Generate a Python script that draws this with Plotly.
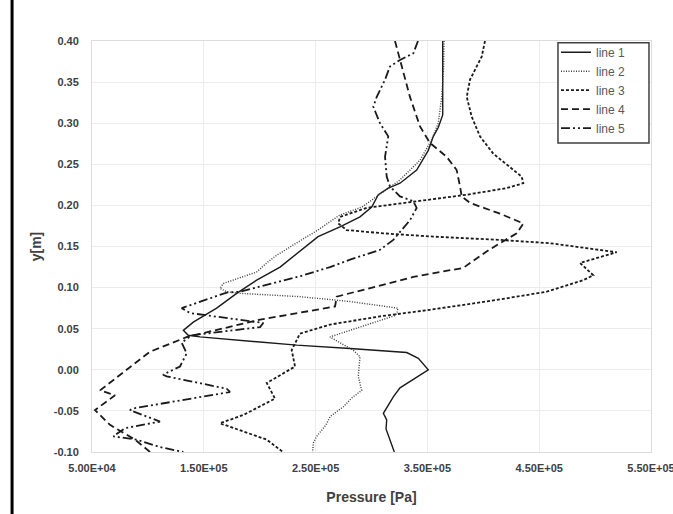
import plotly.graph_objects as go

# ---- data (pressure [Pa], y [m]) ----
line1_p = [363700, 363700, 359800, 355300, 350800, 340400, 325500, 315000, 306100, 300200,
           289700, 271800, 252200, 239600, 218200, 197300, 179400, 161500, 140600, 131700,
           136100, 146600, 233100, 280800, 331500, 341900, 350800, 325500, 319500, 310600,
           313600, 313000, 320400]
line1_y = [0.400, 0.310, 0.295, 0.284, 0.267, 0.243, 0.227, 0.221, 0.213, 0.198,
           0.186, 0.174, 0.162, 0.148, 0.125, 0.109, 0.093, 0.075, 0.058, 0.048,
           0.042, 0.040, 0.030, 0.026, 0.021, 0.014, 0.000, -0.022, -0.033, -0.053,
           -0.061, -0.072, -0.100]

line2_p = [364900, 364400, 362800, 359700, 353800, 343400, 325500, 304700, 291500, 271300,
           252100, 232500, 213700, 206300, 197300, 167400, 164500, 170500, 182400, 236000,
           280800, 323700, 322800, 321000, 280800, 262900, 271800, 283500, 289700, 288800,
           288200, 291200, 282600, 274800, 262900, 259300, 251000, 247900, 247400]
line2_y = [0.400, 0.365, 0.332, 0.300, 0.280, 0.255, 0.231, 0.211, 0.198, 0.188,
           0.170, 0.154, 0.138, 0.130, 0.119, 0.105, 0.099, 0.095, 0.093, 0.089,
           0.083, 0.075, 0.069, 0.066, 0.048, 0.040, 0.033, 0.024, 0.016, 0.005,
           -0.008, -0.025, -0.034, -0.045, -0.057, -0.067, -0.081, -0.089, -0.100]

line3_p = [401500, 398600, 388100, 385200, 389600, 397000, 408900, 423900, 434300, 435800,
           420900, 385200, 340400, 295700, 271800, 270300, 277800, 310600, 355300, 414900,
           459700, 519300, 486500, 498400, 489400, 456700, 412000, 352300, 307600, 262900,
           236000, 228600, 231600, 206300, 213700, 185300, 164500, 206300, 220800]
line3_y = [0.400, 0.381, 0.353, 0.332, 0.308, 0.284, 0.263, 0.247, 0.235, 0.227,
           0.221, 0.213, 0.205, 0.197, 0.186, 0.178, 0.170, 0.166, 0.162, 0.158,
           0.154, 0.143, 0.130, 0.115, 0.109, 0.095, 0.085, 0.073, 0.065, 0.055,
           0.044, 0.024, 0.004, -0.016, -0.035, -0.055, -0.065, -0.085, -0.100]

line4_p = [321000, 325500, 334400, 343400, 352300, 367300, 376200, 379200, 380700, 388100,
           414900, 435800, 429900, 414900, 403000, 382100, 337400, 268900, 267400, 200300,
           135000, 101900, 86700, 57200, 70600, 52700, 66100, 88500, 101900]
line4_y = [0.400, 0.377, 0.332, 0.296, 0.276, 0.259, 0.243, 0.223, 0.211, 0.203,
           0.190, 0.178, 0.166, 0.154, 0.144, 0.124, 0.113, 0.089, 0.077, 0.061,
           0.040, 0.022, 0.006, -0.025, -0.031, -0.049, -0.067, -0.085, -0.100]

line5_p = [341600, 337400, 325500, 316500, 312100, 304700, 301600, 307600, 315000, 312100,
           313600, 316500, 325500, 337400, 340400, 334400, 319500, 307600, 280800, 262900,
           239000, 182400, 170500, 130200, 137700, 203200, 200300, 139200, 130200, 134700,
           128700, 113500, 116800, 170500, 173400, 86900, 84000, 110800, 79500, 69100,
           90000, 110800, 131700]
line5_y = [0.400, 0.385, 0.377, 0.369, 0.353, 0.332, 0.320, 0.300, 0.284, 0.259,
           0.235, 0.223, 0.211, 0.205, 0.197, 0.182, 0.158, 0.146, 0.134, 0.125,
           0.115, 0.095, 0.094, 0.075, 0.069, 0.057, 0.052, 0.042, 0.033, 0.020,
           0.004, -0.006, -0.008, -0.023, -0.027, -0.047, -0.049, -0.063, -0.071, -0.081,
           -0.085, -0.094, -0.100]

series_names = ["line 1", "line 2", "line 3", "line 4", "line 5"]

x_tickvals = [50000, 150000, 250000, 350000, 450000, 550000]
x_ticktext = ["5.00E+04", "1.50E+05", "2.50E+05", "3.50E+05", "4.50E+05", "5.50E+05"]
y_tickvals = [-0.10, -0.05, 0.00, 0.05, 0.10, 0.15, 0.20, 0.25, 0.30, 0.35, 0.40]
y_ticktext = ["-0.10", "-0.05", "0.00", "0.05", "0.10", "0.15", "0.20", "0.25", "0.30", "0.35", "0.40"]

styles = [
    dict(color="#1a1a1a", width=1.4, dash="solid"),
    dict(color="#3a3a3a", width=1.4, dash="1px,1.5px"),
    dict(color="#1a1a1a", width=1.8, dash="3px,2px"),
    dict(color="#1a1a1a", width=1.8, dash="7px,4px"),
    dict(color="#1a1a1a", width=1.8, dash="9px,3px,2px,3px,2px,3px"),
]

data = [(line1_p, line1_y), (line2_p, line2_y), (line3_p, line3_y),
        (line4_p, line4_y), (line5_p, line5_y)]

fig = go.Figure()
for (px, py), name, st in zip(data, series_names, styles):
    fig.add_trace(go.Scatter(x=px, y=py, mode="lines", name=name, line=st))

fig.update_layout(
    width=673, height=514,
    margin=dict(l=92, r=22, t=41, b=62, autoexpand=False),
    paper_bgcolor="white", plot_bgcolor="white",
    font=dict(family="Arial, Liberation Sans", color="#404040"),
    showlegend=True,
    legend=dict(
        x=0.830, y=1.008, xanchor="left", yanchor="top",
        borderwidth=0, bgcolor="rgba(0,0,0,0)",
        font=dict(family="Arial, Liberation Sans", size=12, color="#595959"),
        tracegroupgap=0,
    ),
    xaxis=dict(
        range=[50000, 550000], tickvals=x_tickvals, ticktext=x_ticktext,
        showgrid=True, gridcolor="#ececec", gridwidth=1,
        showline=True, linecolor="#dcdcdc", mirror=True, zeroline=False,
        tickfont=dict(family="Arial, Liberation Sans", size=11, color="#404040", weight="bold"),
        title=dict(text="<b>Pressure [Pa]</b>", font=dict(size=14, color="#404040"), standoff=18),
        ticks="", ticklabelstandoff=6, ticklabeloverflow="allow", automargin=False,
    ),
    yaxis=dict(
        range=[-0.10, 0.40], tickvals=y_tickvals, ticktext=y_ticktext,
        showgrid=True, gridcolor="#ececec", gridwidth=1,
        showline=True, linecolor="#dcdcdc", mirror=True, zeroline=False,
        tickfont=dict(family="Arial, Liberation Sans", size=11, color="#404040", weight="bold"),
        title=dict(text="<b>y[m]</b>", font=dict(size=14, color="#404040"), standoff=8),
        ticks="", ticklabelstandoff=10, automargin=False,
    ),
)

# legend frame (white box with dark border, as in the reference)
fig.add_shape(type="rect", xref="paper", yref="paper",
              x0=0.8336, x1=0.9964, y0=0.7518, y1=0.9959,
              line=dict(color="#404040", width=1.5), fillcolor="white", layer="above")

# chart-area border (left edge visible in the reference)
fig.add_shape(type="line", xref="paper", yref="paper",
              x0=-0.143, x1=-0.143, y0=-0.2, y1=1.12,
              line=dict(color="black", width=3))

fig.write_html("out.html")
